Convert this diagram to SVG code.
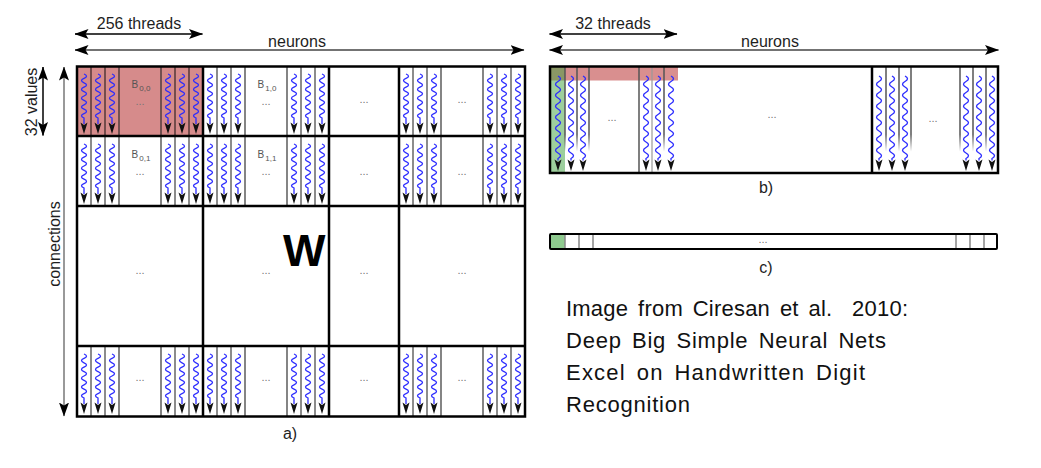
<svg xmlns="http://www.w3.org/2000/svg" xmlns:xlink="http://www.w3.org/1999/xlink" width="1041" height="468" viewBox="0 0 1041 468">
<style>
.t{font-family:"Liberation Sans",Arial,Helvetica,sans-serif;fill:#1e1e1e}
.lbl{font-size:16px}
.dots{font-family:"Liberation Sans",Arial,sans-serif;font-size:11px;fill:#777;text-anchor:middle}
.bl{font-family:"Liberation Sans",Arial,sans-serif;font-size:10px;fill:#555;text-anchor:middle}
.sep{stroke:#000;stroke-opacity:0.45;stroke-width:2;fill:none}
.cl{stroke:#222;stroke-width:1.1;fill:none}
.wv{stroke:#2b2bff;stroke-width:1.3;fill:none}
.gl{stroke:#000;stroke-width:2.5;fill:none}
.ah{fill:#111}
.cap{font-family:"Liberation Sans",Arial,sans-serif;font-size:22px;fill:#111;word-spacing:3.5px}
.dim{stroke-width:1.5;fill:none}
</style>
<defs>
<marker id="mh" viewBox="0 0 14 10" markerUnits="userSpaceOnUse" markerWidth="14" markerHeight="10" refX="13.5" refY="5" orient="auto-start-reverse">
<path d="M0,0 L14,5 L0,10 L3,5 Z" fill="#000"/>
</marker>
<linearGradient id="fade" gradientUnits="userSpaceOnUse" x1="0" y1="66" x2="0" y2="173">
<stop offset="0" stop-color="#555" stop-opacity="1"/>
<stop offset="0.64" stop-color="#555" stop-opacity="1"/>
<stop offset="0.8" stop-color="#555" stop-opacity="0"/>
</linearGradient>
<g id="wa">
<path class="wv" d="M0,8 q5,2.2 0,4.4 q-5,2.2 0,4.4 q5,2.2 0,4.4 q-5,2.2 0,4.4 q5,2.2 0,4.4 q-5,2.2 0,4.4 q5,2.2 0,4.4 q-5,2.2 0,4.4 q5,2.2 0,4.4 q-5,2.2 0,4.4 l0,6"/>
<path class="ah" d="M0,68 L-3.5,56.5 L0,59 L3.5,56.5 Z"/>
</g>
<g id="wb">
<path class="wv" d="M0,76 q5,2.75 0,5.5 q-5,2.75 0,5.5 q5,2.75 0,5.5 q-5,2.75 0,5.5 q5,2.75 0,5.5 q-5,2.75 0,5.5 q5,2.75 0,5.5 q-5,2.75 0,5.5 q5,2.75 0,5.5 q-5,2.75 0,5.5 q5,2.75 0,5.5 q-5,2.75 0,5.5 q5,2.75 0,5.5 q-5,2.75 0,5.5 q5,2.75 0,5.5 l0,2"/>
<path class="ah" d="M0,171 L-3.5,159.5 L0,162 L3.5,159.5 Z"/>
</g>
<g id="tb">
<path class="sep" d="M14,0V70M28,0V70M98,0V70M112,0V70"/>
<path class="cl" d="M42,0V70M84,0V70"/>
<use xlink:href="#wa" x="7"/>
<use xlink:href="#wa" x="21"/>
<use xlink:href="#wa" x="35"/>
<use xlink:href="#wa" x="91"/>
<use xlink:href="#wa" x="105"/>
<use xlink:href="#wa" x="119"/>
</g>
</defs>
<rect width="1041" height="468" fill="#fff"/>

<!-- Panel a -->
<g id="panel-a">
<rect x="77" y="66" width="126" height="70" fill="#d68b8b"/>
<g id="a-threads">
<use xlink:href="#tb" x="77" y="66"/>
<use xlink:href="#tb" x="203" y="66"/>
<use xlink:href="#tb" x="399" y="66"/>
<use xlink:href="#tb" x="77" y="136"/>
<use xlink:href="#tb" x="203" y="136"/>
<use xlink:href="#tb" x="399" y="136"/>
<use xlink:href="#tb" x="77" y="346"/>
<use xlink:href="#tb" x="203" y="346"/>
<use xlink:href="#tb" x="399" y="346"/>
</g>
<g id="a-grid">
<rect class="gl" x="77" y="66.5" width="448" height="350"/>
<path class="gl" d="M203,66V417M329,66V417M399,66V417M77,136H525M77,206H525M77,346H525"/>
</g>
<g id="a-labels">
<text class="bl" x="141" y="88">B<tspan font-size="8" dx="1" dy="3">0,0</tspan></text>
<text class="bl" x="267" y="88">B<tspan font-size="8" dx="1" dy="3">1,0</tspan></text>
<text class="bl" x="141" y="158">B<tspan font-size="8" dx="1" dy="3">0,1</tspan></text>
<text class="bl" x="267" y="158">B<tspan font-size="8" dx="1" dy="3">1,1</tspan></text>
<text class="dots" x="140" y="105">...</text>
<text class="dots" x="266" y="105">...</text>
<text class="dots" x="364" y="103">...</text>
<text class="dots" x="462" y="103">...</text>
<text class="dots" x="140" y="175">...</text>
<text class="dots" x="266" y="175">...</text>
<text class="dots" x="364" y="175">...</text>
<text class="dots" x="462" y="175">...</text>
<text class="dots" x="140" y="274">...</text>
<text class="dots" x="266" y="274">...</text>
<text class="dots" x="364" y="274">...</text>
<text class="dots" x="462" y="274">...</text>
<text class="dots" x="140" y="381">...</text>
<text class="dots" x="266" y="381">...</text>
<text class="dots" x="364" y="381">...</text>
<text class="dots" x="462" y="381">...</text>
<text x="283" y="266" font-family="Liberation Sans,Arial,sans-serif" font-weight="bold" font-size="45" fill="#000">W</text>
<text class="t lbl" x="290" y="439" text-anchor="middle">a)</text>
</g>
</g>

<!-- Panel b -->
<g id="panel-b">
<rect x="551" y="67" width="127" height="13.5" fill="#d98f8f"/>
<rect x="551" y="67" width="14" height="106" fill="rgb(60,160,60)" fill-opacity="0.5"/>
<path d="M565,67V172M577,67V172M589,67V172M664,67V172M886,67V172M899,67V172M911,67V172M960,67V172M973,67V172M986,67V172" stroke="url(#fade)" stroke-width="1.5" fill="none"/>
<path d="M639,67V172" stroke="#555" stroke-width="1.5"/>
<path d="M652,67V172" stroke="#999" stroke-width="1.2"/>
<use xlink:href="#wb" x="558"/>
<use xlink:href="#wb" x="571"/>
<use xlink:href="#wb" x="583"/>
<use xlink:href="#wb" x="646"/>
<use xlink:href="#wb" x="658"/>
<use xlink:href="#wb" x="671"/>
<use xlink:href="#wb" x="879"/>
<use xlink:href="#wb" x="892"/>
<use xlink:href="#wb" x="905"/>
<use xlink:href="#wb" x="966"/>
<use xlink:href="#wb" x="979"/>
<use xlink:href="#wb" x="992"/>
<path class="gl" d="M872,66V173"/>
<rect class="gl" x="550" y="66.5" width="448" height="106.5"/>
<text class="dots" x="612" y="121">...</text>
<text class="dots" x="772" y="118">...</text>
<text class="dots" x="933" y="122">...</text>
<text class="t lbl" x="766" y="193" text-anchor="middle">b)</text>
</g>

<!-- Panel c -->
<g id="panel-c">
<rect x="550" y="234" width="447" height="15" fill="#fff" stroke="#000" stroke-width="2" rx="1"/>
<rect x="551" y="235" width="14" height="13" fill="#8fca8f"/>
<path d="M565,235V248M579,235V248M593,235V248M956,235V248M970,235V248M984,235V248" stroke="#888" stroke-width="1.5"/>
<text class="dots" x="763" y="243">...</text>
<text class="t lbl" x="766" y="273" text-anchor="middle">c)</text>
</g>

<!-- Dimension arrows (connectors) -->
<g id="connectors">
<line class="dim" x1="75" y1="34" x2="202.5" y2="34" stroke="#000" marker-start="url(#mh)" marker-end="url(#mh)"/>
<line class="dim" x1="75" y1="50" x2="524" y2="50" stroke="#444" marker-start="url(#mh)" marker-end="url(#mh)"/>
<line class="dim" x1="549.5" y1="34" x2="677" y2="34" stroke="#000" marker-start="url(#mh)" marker-end="url(#mh)"/>
<line class="dim" x1="549.5" y1="50" x2="998.5" y2="50" stroke="#444" marker-start="url(#mh)" marker-end="url(#mh)"/>
<line class="dim" x1="43" y1="67" x2="43" y2="135.5" stroke="#000" marker-start="url(#mh)" marker-end="url(#mh)"/>
<line class="dim" x1="64" y1="67" x2="64" y2="416" stroke="#777" marker-start="url(#mh)" marker-end="url(#mh)"/>
</g>

<g id="dim-labels">
<text class="t lbl" x="139" y="29" text-anchor="middle">256 threads</text>
<text class="t lbl" x="297" y="47" text-anchor="middle">neurons</text>
<text class="t lbl" x="613" y="29" text-anchor="middle">32 threads</text>
<text class="t lbl" x="770" y="47" text-anchor="middle">neurons</text>
<text class="t lbl" transform="translate(37,102) rotate(-90)" text-anchor="middle">32 values</text>
<text class="t lbl" transform="translate(60,244) rotate(-90)" text-anchor="middle">connections</text>
</g>

<g id="caption">
<text class="cap" x="566" y="316" textLength="342" lengthAdjust="spacing">Image from Ciresan et al. &#160;2010:</text>
<text class="cap" x="566" y="348" textLength="320" lengthAdjust="spacing">Deep Big Simple Neural Nets</text>
<text class="cap" x="566" y="380" textLength="299" lengthAdjust="spacing">Excel on Handwritten Digit</text>
<text class="cap" x="566" y="412" textLength="124" lengthAdjust="spacing">Recognition</text>
</g>
</svg>
